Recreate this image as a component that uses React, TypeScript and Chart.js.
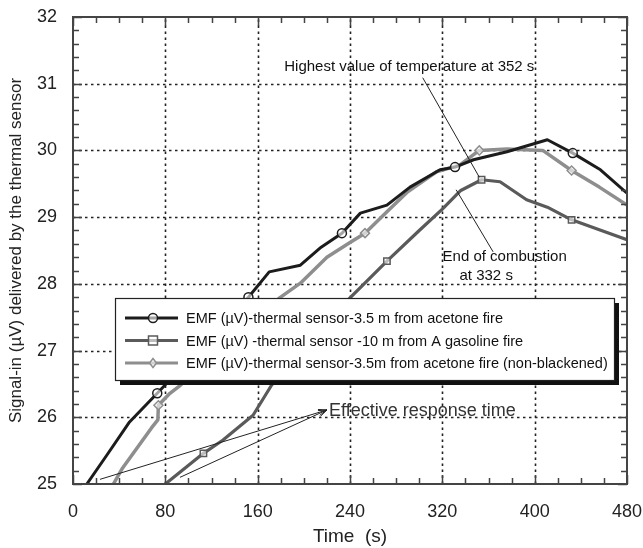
import React, { useEffect, useRef } from 'react';
import { Chart, registerables } from 'chart.js';

Chart.register(...registerables);

const FONT = '"Liberation Sans", Arial, Helvetica, sans-serif';

// ---- data ----
const seriesLabels = [
  'EMF (µV)-thermal sensor-3.5 m from acetone fire',
  'EMF (µV) -thermal sensor -10 m from A gasoline fire',
  'EMF (µV)-thermal sensor-3.5m from acetone fire (non-blackened)',
];

const acetoneTimes = [12, 30, 49, 73, 95, 120, 152, 170, 197, 215, 233, 249, 272, 292, 318, 331, 347, 376, 411, 433, 457, 480];
const acetoneValues = [25.0, 25.45, 25.93, 26.36, 26.76, 27.22, 27.8, 28.18, 28.28, 28.55, 28.76, 29.06, 29.18, 29.45, 29.71, 29.75, 29.86, 29.98, 30.16, 29.96, 29.71, 29.36];
const acetoneMarkerTimes = [73, 152, 233, 331, 433];

const gasolineTimes = [80, 113, 130, 156, 172, 192, 215, 240, 272, 300, 320, 336, 354, 370, 393, 411, 432, 456, 480];
const gasolineValues = [25.0, 25.46, 25.66, 26.03, 26.48, 26.88, 27.35, 27.79, 28.34, 28.8, 29.12, 29.4, 29.56, 29.53, 29.26, 29.15, 28.96, 28.81, 28.66];
const gasolineMarkerTimes = [113, 192, 272, 354, 432];

const nonBlackTimes = [35, 43, 68, 73.5, 74, 84, 93, 130, 179, 197, 220, 240, 253, 272, 290, 315, 335, 352, 376, 407, 432, 456, 480];
const nonBlackValues = [25.0, 25.24, 25.84, 25.96, 26.18, 26.36, 26.48, 27.05, 27.79, 28.01, 28.4, 28.62, 28.76, 29.08, 29.38, 29.68, 29.78, 30.0, 30.02, 30.0, 29.7, 29.45, 29.18];
const nonBlackMarkerTimes = [74, 253, 352, 432];

const xMin = 0, xMax = 480, xStep = 80;
const yMin = 25, yMax = 32, yStep = 1;

const xTitle = 'Time  (s)';
const yTitle = 'Signal-in (µV) delivered by the thermal sensor';

// annotations in data units
const peakText = 'Highest value of temperature at 352 s';
const peakTextAnchor = [183, 31.25];
const peakLine = [[303, 31.09], [352, 29.6]];
const endText1 = 'End of combustion';
const endText2 = 'at 332 s';
const endText1Anchor = [374, 28.4];
const endText2Anchor = [358, 28.12];
const endLine = [[332, 29.41], [364, 28.48]];
const responseText = 'Effective response time';
const responseTextAnchor = [221, 26.09];
const responseLines = [
  [[23.4, 25.07], [220, 26.11]],
  [[92.7, 25.1], [220, 26.11]],
];

const colors = ['#1c1c1c', '#5a5a5a', '#8e8e8e'];
const styles = ['circle', 'rect', 'rectRot'];

function drawMarker(ctx: CanvasRenderingContext2D, style: string, x: number, y: number, color: string) {
  ctx.save();
  ctx.strokeStyle = color;
  ctx.fillStyle = 'rgba(255,255,255,0.6)';
  ctx.lineWidth = 1.5;
  ctx.setLineDash([]);
  ctx.beginPath();
  if (style === 'circle') {
    ctx.arc(x, y, 4.5, 0, Math.PI * 2);
  } else if (style === 'rect') {
    ctx.rect(x - 4.5, y - 4.5, 9, 9);
  } else {
    ctx.moveTo(x, y - 4.5);
    ctx.lineTo(x + 3.5, y);
    ctx.lineTo(x, y + 4.5);
    ctx.lineTo(x - 3.5, y);
    ctx.closePath();
  }
  ctx.fill();
  ctx.stroke();
  ctx.restore();
}

const decorPlugin = {
  id: 'decor',
  beforeDatasetsDraw(chart: any) {
    const { ctx, chartArea: a, scales } = chart;
    const x = scales.x, y = scales.y;
    ctx.save();
    ctx.strokeStyle = '#222';
    ctx.lineWidth = 1.6;
    ctx.setLineDash([2.5, 3.5]);
    x.ticks.forEach((t: any) => {
      if (t.value <= xMin || t.value >= xMax) return;
      const px = Math.round(x.getPixelForValue(t.value)) + 0.5;
      ctx.beginPath(); ctx.moveTo(px, a.bottom); ctx.lineTo(px, a.top); ctx.stroke();
    });
    y.ticks.forEach((t: any) => {
      if (t.value <= yMin || t.value >= yMax) return;
      const py = Math.round(y.getPixelForValue(t.value)) + 0.5;
      ctx.beginPath(); ctx.moveTo(a.left, py); ctx.lineTo(a.right, py); ctx.stroke();
    });
    ctx.restore();
  },
  afterDatasetsDraw(chart: any) {
    const { ctx, chartArea: a, scales } = chart;
    const x = scales.x, y = scales.y;
    const P = (p: number[]) => [x.getPixelForValue(p[0]), y.getPixelForValue(p[1])];
    ctx.save();
    ctx.setLineDash([]);
    // frame
    ctx.strokeStyle = '#444';
    ctx.lineWidth = 2;
    ctx.strokeRect(a.left, a.top, a.right - a.left, a.bottom - a.top);
    // ticks
    ctx.lineWidth = 1.5;
    const xt = x.ticks.map((t: any) => t.value);
    for (let i = 0; i < xt.length; i++) {
      const v0 = xt[i];
      for (let k = 0; k < 4; k++) {
        if (i === xt.length - 1 && k > 0) break;
        const v = v0 + (k * xStep) / 4;
        const px = Math.round(x.getPixelForValue(v)) + 0.5;
        const len = k === 0 ? 9 : 6;
        ctx.beginPath();
        ctx.moveTo(px, a.bottom); ctx.lineTo(px, a.bottom - len);
        ctx.moveTo(px, a.top); ctx.lineTo(px, a.top + len);
        ctx.stroke();
      }
    }
    const yt = y.ticks.map((t: any) => t.value);
    for (let i = 0; i < yt.length; i++) {
      const v0 = yt[i];
      for (let k = 0; k < 5; k++) {
        if (i === yt.length - 1 && k > 0) break;
        const v = v0 + (k * yStep) / 5;
        const py = Math.round(y.getPixelForValue(v)) + 0.5;
        const len = k === 0 ? 9 : 6;
        ctx.beginPath();
        ctx.moveTo(a.left, py); ctx.lineTo(a.left + len, py);
        ctx.moveTo(a.right, py); ctx.lineTo(a.right - len, py);
        ctx.stroke();
      }
    }
    // legend box
    const bx = 115, by = 298, bw = 499, bh = 82, sh = 5;
    ctx.fillStyle = '#111';
    ctx.fillRect(bx + sh, by + sh, bw, bh);
    ctx.fillStyle = '#fff';
    ctx.fillRect(bx, by, bw, bh);
    ctx.strokeStyle = '#222';
    ctx.lineWidth = 1.2;
    ctx.strokeRect(bx + 0.5, by + 0.5, bw, bh);
    chart.data.datasets.forEach((ds: any, i: number) => {
      const ry = by + 20 + i * 22.5;
      ctx.strokeStyle = ds.borderColor;
      ctx.lineWidth = 3;
      ctx.beginPath(); ctx.moveTo(bx + 10, ry); ctx.lineTo(bx + 63, ry); ctx.stroke();
      drawMarker(ctx, styles[i], bx + 38, ry, ds.borderColor);
      ctx.fillStyle = '#111';
      ctx.font = `14.5px ${FONT}`;
      ctx.textBaseline = 'middle';
      ctx.textAlign = 'left';
      ctx.fillText(ds.label, bx + 71, ry + 1);
    });
    // annotations
    ctx.strokeStyle = '#222';
    ctx.lineWidth = 1;
    const seg = (p: number[], q: number[]) => {
      const [x1, y1] = P(p); const [x2, y2] = P(q);
      ctx.beginPath(); ctx.moveTo(x1, y1); ctx.lineTo(x2, y2); ctx.stroke();
    };
    seg(peakLine[0], peakLine[1]);
    seg(endLine[0], endLine[1]);
    responseLines.forEach((l) => {
      seg(l[0], l[1]);
      const [x1, y1] = P(l[0]); const [x2, y2] = P(l[1]);
      const ang = Math.atan2(y2 - y1, x2 - x1);
      const ah = 9;
      ctx.beginPath();
      ctx.moveTo(x2 - ah * Math.cos(ang - 0.35), y2 - ah * Math.sin(ang - 0.35));
      ctx.lineTo(x2, y2);
      ctx.lineTo(x2 - ah * Math.cos(ang + 0.35), y2 - ah * Math.sin(ang + 0.35));
      ctx.stroke();
    });
    ctx.fillStyle = '#111';
    ctx.textBaseline = 'middle';
    ctx.font = `15px ${FONT}`;
    ctx.textAlign = 'left';
    let [tx, ty] = P(peakTextAnchor);
    ctx.fillText(peakText, tx, ty);
    ctx.textAlign = 'center';
    [tx, ty] = P(endText1Anchor);
    ctx.fillText(endText1, tx, ty);
    [tx, ty] = P(endText2Anchor);
    ctx.fillText(endText2, tx, ty);
    ctx.textAlign = 'left';
    ctx.font = `18px ${FONT}`;
    ctx.fillStyle = '#333';
    [tx, ty] = P(responseTextAnchor);
    ctx.fillText(responseText, tx + 1, ty);
    ctx.restore();
  },
};

function makeDataset(label: string, times: number[], values: number[], markers: number[], color: string, style: string, width: number) {
  return {
    label,
    data: times.map((t, i) => ({ x: t, y: values[i] })),
    borderColor: color,
    borderWidth: width,
    borderJoinStyle: 'round',
    tension: 0,
    pointStyle: style,
    pointRadius: (c: any) => (c.raw && markers.includes(c.raw.x) ? 4.5 : 0),
    pointHoverRadius: 0,
    pointBorderColor: color,
    pointBackgroundColor: 'rgba(255,255,255,0.6)',
    pointBorderWidth: 1.5,
    fill: false,
  };
}

export default function App() {
  const ref = useRef<HTMLCanvasElement | null>(null);
  useEffect(() => {
    if (!ref.current) return;
    const chart = new Chart(ref.current, {
      type: 'line',
      data: {
        datasets: [
          makeDataset(seriesLabels[0], acetoneTimes, acetoneValues, acetoneMarkerTimes, colors[0], styles[0], 3),
          makeDataset(seriesLabels[1], gasolineTimes, gasolineValues, gasolineMarkerTimes, colors[1], styles[1], 3.2),
          makeDataset(seriesLabels[2], nonBlackTimes, nonBlackValues, nonBlackMarkerTimes, colors[2], styles[2], 3.5),
        ] as any,
      },
      options: {
        responsive: false,
        animation: false,
        events: [],
        layout: { padding: { left: 0, top: 17, right: 16, bottom: 0 } },
        plugins: { legend: { display: false }, tooltip: { enabled: false } },
        scales: {
          x: {
            type: 'linear',
            min: xMin,
            max: xMax,
            ticks: { stepSize: xStep, color: '#222', font: { family: FONT, size: 18 }, padding: 17, maxRotation: 0, autoSkip: false },
            grid: { display: false, drawTicks: false },
            border: { display: false },
            title: { display: true, text: xTitle, color: '#222', font: { family: FONT, size: 19 }, padding: { top: 0, bottom: 0 } },
            afterFit: (s: any) => { s.height = 64; s.paddingLeft = 0; s.paddingRight = 0; },
          },
          y: {
            type: 'linear',
            min: yMin,
            max: yMax,
            ticks: { stepSize: yStep, color: '#222', font: { family: FONT, size: 18 }, padding: 16 },
            grid: { display: false, drawTicks: false },
            border: { display: false },
            title: { display: true, text: yTitle, color: '#222', font: { family: FONT, size: 17 }, padding: { top: 6, bottom: 0 } },
            afterFit: (s: any) => { s.width = 73; s.paddingTop = 0; s.paddingBottom = 0; },
          },
        },
      } as any,
      plugins: [decorPlugin as any],
    });
    return () => chart.destroy();
  }, []);
  return (
    <div style={{ position: 'absolute', left: 0, top: 0, width: 643, height: 548, background: '#fff' }}>
      <canvas ref={ref} width={643} height={548} style={{ width: 643, height: 548, display: 'block' }} />
    </div>
  );
}
